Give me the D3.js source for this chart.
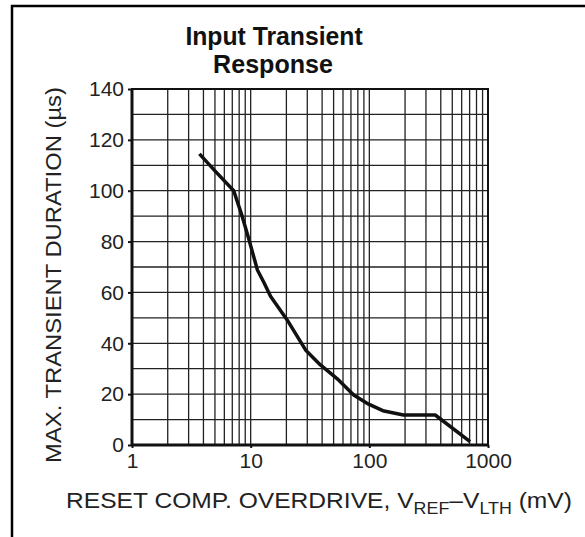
<!DOCTYPE html>
<html><head><meta charset="utf-8">
<script src="https://cdn.jsdelivr.net/npm/d3@7"></script>
<style>
html,body{margin:0;padding:0;background:#fff;}
svg{display:block;font-family:"Liberation Sans",Arial,Helvetica,sans-serif;}
</style></head>
<body>
<svg id="chart" width="585" height="537"></svg>
<script>
const titleLines = ["Input Transient", "Response"];
const overdrive = [3.7, 5, 7.2, 8.5, 9.7, 11.4, 12.9, 14.7, 20.3, 29, 38.7, 55, 73.8, 95.6, 130, 194, 359, 706];
const duration  = [114.5, 107.8, 100, 89.8, 80.6, 68.8, 64, 58.5, 49.2, 37.4, 31.5, 25.6, 19.7, 16.4, 13.5, 11.8, 11.8, 1.3];
const yTicks = [0, 20, 40, 60, 80, 100, 120, 140];
const yGrid = [10, 20, 30, 40, 50, 60, 70, 80, 90, 100, 110, 120, 130];
const xTicks = [1, 10, 100, 1000];
const xGrid = [2,3,4,5,6,7,8,9,10,20,30,40,50,60,70,80,90,100,200,300,400,500,600,700,800,900];

const svg = d3.select("#chart");
const L = 132, R = 488, T = 89, B = 445;
const x = d3.scaleLog().domain([1, 1000]).range([L, R]);
const y = d3.scaleLinear().domain([0, 140]).range([B, T]);

function fitWidth(sel, cx, cy, target, rotate) {
  const w = sel.node().getBBox().width;
  const s = target / w;
  sel.attr("x", 0).attr("y", 0)
     .attr("transform", `translate(${cx},${cy})${rotate ? " rotate(-90)" : ""} scale(${s},1)`);
}

// outer frame (top + left)
svg.append("path").attr("d", "M12,537 L12,6 L585,6").attr("fill", "none").attr("stroke", "#000").attr("stroke-width", 2.5);

// grid
svg.append("g").selectAll("line").data(xGrid).join("line")
  .attr("x1", d => x(d)).attr("x2", d => x(d)).attr("y1", T).attr("y2", B)
  .attr("stroke", "#222").attr("stroke-width", 1.3);
svg.append("g").selectAll("line").data(yGrid).join("line")
  .attr("x1", L).attr("x2", R).attr("y1", d => y(d)).attr("y2", d => y(d))
  .attr("stroke", "#222").attr("stroke-width", 1.3);

// plot box
svg.append("rect").attr("x", L).attr("y", T).attr("width", R - L).attr("height", B - T)
  .attr("fill", "none").attr("stroke", "#111").attr("stroke-width", 2);
svg.append("line").attr("x1", L).attr("x2", R).attr("y1", B).attr("y2", B).attr("stroke", "#111").attr("stroke-width", 3);
svg.append("line").attr("x1", L).attr("x2", L).attr("y1", T).attr("y2", B).attr("stroke", "#111").attr("stroke-width", 3);

// axes
const yAxis = d3.axisLeft(y).tickValues(yTicks).tickSize(4).tickPadding(4).tickFormat(d3.format("d"));
const gy = svg.append("g").attr("transform", `translate(${L},0)`).call(yAxis);
gy.select(".domain").remove();
gy.selectAll("line").attr("stroke", "#111").attr("stroke-width", 2);
gy.selectAll("text").attr("font-size", 21).attr("fill", "#222").attr("font-family", "Liberation Sans, Arial, sans-serif");

const xAxis = d3.axisBottom(x).tickValues(xTicks).tickSize(3).tickPadding(5).tickFormat(d3.format("d"));
const gx = svg.append("g").attr("transform", `translate(0,${B})`).call(xAxis);
gx.select(".domain").remove();
gx.selectAll("line").attr("stroke", "#111").attr("stroke-width", 2);
gx.selectAll("text").attr("font-size", 21).attr("fill", "#222").attr("font-family", "Liberation Sans, Arial, sans-serif");

// curve
const pts = overdrive.map((d, i) => [d, duration[i]]);
svg.append("path").datum(pts)
  .attr("d", d3.line().x(d => x(d[0])).y(d => y(d[1])))
  .attr("fill", "none").attr("stroke", "#111").attr("stroke-width", 3.5).attr("stroke-linejoin", "round");

// title
const t1 = svg.append("text").attr("text-anchor", "middle")
  .attr("font-size", 25).attr("font-weight", "bold").attr("fill", "#111").text(titleLines[0]);
fitWidth(t1, 274, 45, 178);
const t2 = svg.append("text").attr("text-anchor", "middle")
  .attr("font-size", 25).attr("font-weight", "bold").attr("fill", "#111").text(titleLines[1]);
fitWidth(t2, 273, 73, 120);

// y label
const yl = svg.append("text").attr("text-anchor", "middle")
  .attr("font-size", 22).attr("fill", "#222").text("MAX. TRANSIENT DURATION (\u00b5s)");
fitWidth(yl, 61, 275, 376, true);

// x label
const xl = svg.append("text").attr("text-anchor", "middle")
  .attr("font-size", 22).attr("fill", "#222");
xl.append("tspan").text("RESET COMP. OVERDRIVE, V");
xl.append("tspan").attr("font-size", 16).attr("dy", 6).text("REF");
xl.append("tspan").attr("dy", -6).text("\u2013V");
xl.append("tspan").attr("font-size", 16).attr("dy", 6).text("LTH");
xl.append("tspan").attr("dy", -6).text(" (mV)");
fitWidth(xl, 319, 508, 506);
</script>
</body></html>
